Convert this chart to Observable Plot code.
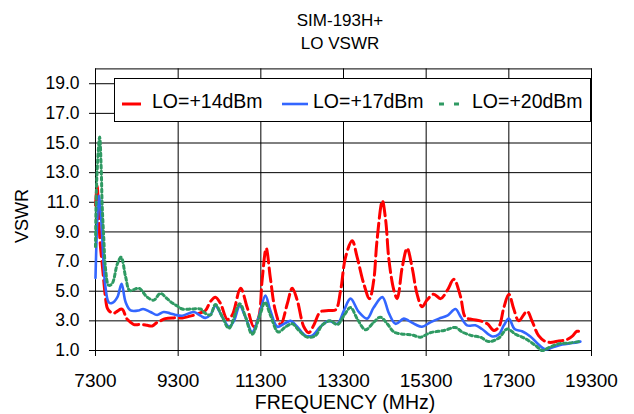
<!DOCTYPE html>
<html>
<head>
<meta charset="utf-8">
<script src="https://cdn.jsdelivr.net/npm/d3@7"></script>
<script src="https://cdn.jsdelivr.net/npm/@observablehq/plot@0.6"></script>
<style>
  html, body { margin: 0; padding: 0; background: #fff; }
  #wrap { position: relative; width: 634px; height: 414px; font-family: "Liberation Sans", Arial, sans-serif; color: #000; }
  #wrap svg { position: absolute; left: 0; top: 0; }
  .ttl { position: absolute; left: 240px; width: 200px; text-align: center; font-size: 17px; line-height: 23px; white-space: nowrap; z-index: 2; }
</style>
</head>
<body>
<div id="wrap">
  <div class="ttl" style="top:8.6px">SIM-193H+</div>
  <div class="ttl" style="top:31.6px">LO VSWR</div>
</div>
<script>
// ---- data ----
const xTicks = [7300, 9300, 11300, 13300, 15300, 17300, 19300];
const yTicks = [1, 3, 5, 7, 9, 11, 13, 15, 17, 19];
const seriesNames = ["LO=+14dBm", "LO=+17dBm", "LO=+20dBm"];

const lo14Freq = [7300,7340,7380,7420,7460,7500,7540,7580,7620,7660,7740,7800,7920,7960,8030,8070,8150,8230,8350,8430,8550,8670,8790,8870,8990,9190,9400,9640,9800,9960,10080,10200,10320,10490,10610,10810,10970,11130,11250,11330,11430,11530,11650,11780,11940,12060,12180,12340,12460,12580,12740,12940,13110,13230,13350,13510,13630,13790,13930,14030,14110,14240,14320,14400,14520,14600,14720,14840,14960,15080,15200,15320,15480,15650,15810,15970,16130,16250,16410,16610,16780,16940,17060,17180,17300,17420,17540,17740,17860,18020,18190,18350,18510,18670,18830,18950,19050];
const lo14Vswr = [10.8,12.1,9.8,8.0,6.9,5.7,4.6,3.9,3.7,3.6,3.5,3.6,3.8,3.75,3.3,3.1,2.9,2.75,2.75,2.75,2.7,2.65,2.9,3.0,3.15,3.2,3.2,3.35,3.5,3.7,4.3,4.6,4.2,3.1,3.4,5.2,3.9,2.6,3.25,5.7,7.9,5.9,3.7,2.75,4.15,5.2,4.4,2.6,2.2,2.7,3.6,3.7,3.75,5.05,7.3,8.4,7.3,5.5,4.5,5.7,8.4,11.1,9.8,7.1,5.05,4.5,6.6,7.9,6.6,4.8,3.95,4.4,4.8,4.5,5.05,5.8,4.65,3.25,3.1,3.0,2.8,2.35,2.6,3.9,4.8,3.8,3.0,3.65,3.0,2.0,1.6,1.55,1.65,1.7,1.95,2.3,2.25];

const lo17Freq = [7300,7380,7440,7490,7540,7620,7700,7830,7930,8030,8150,8350,8450,8630,8790,8950,9110,9240,9400,9680,9840,9960,10080,10200,10370,10530,10650,10790,10930,11090,11250,11410,11530,11700,11860,12020,12180,12380,12540,12740,12940,13150,13310,13470,13670,13870,14030,14240,14400,14560,14760,14880,15040,15200,15400,15610,15810,16010,16130,16290,16490,16650,16900,17060,17180,17300,17440,17620,17820,18020,18190,18350,18590,18830,19030];
const lo17Vswr = [5.9,11.45,9.8,7.1,5.3,4.25,4.2,4.6,5.5,4.25,3.7,3.7,3.8,3.6,3.4,3.6,3.5,3.4,3.35,3.6,3.35,3.2,3.4,4.0,3.25,2.6,3.0,4.0,3.25,2.25,3.25,4.7,3.7,2.6,2.8,3.0,2.6,2.0,2.0,2.6,3.0,2.8,3.7,4.5,3.6,3.15,3.9,4.6,3.5,2.8,3.15,3.0,2.75,2.6,2.9,3.15,3.35,3.8,3.3,2.7,2.7,2.45,1.95,2.1,2.7,3.15,2.45,2.3,1.95,1.4,1.07,1.2,1.4,1.5,1.6];

const lo20Freq = [7300,7330,7400,7440,7460,7500,7540,7620,7700,7830,7920,8030,8130,8350,8550,8710,8870,9030,9160,9280,9400,9640,9840,9960,10080,10200,10370,10530,10790,10930,11090,11290,11400,11530,11720,11900,12060,12220,12420,12620,12780,12980,13150,13310,13470,13630,13830,14030,14190,14360,14520,14760,14960,15160,15400,15730,16010,16170,16410,16610,16820,17060,17260,17460,17700,17940,18110,18270,18510,18750,18990];
const lo20Vswr = [8.0,12.5,15.4,13.1,10.9,8.6,6.6,5.4,5.5,6.85,7.3,5.95,5.05,5.2,4.6,4.4,4.85,4.5,4.2,4.0,3.8,3.8,3.8,3.5,3.4,4.1,3.25,2.5,4.15,3.25,2.1,3.5,4.26,3.4,2.25,2.6,2.8,2.35,1.9,2.0,2.7,3.0,2.75,3.35,3.9,3.15,2.4,2.9,3.25,2.8,2.25,2.1,2.05,1.9,2.2,2.35,2.55,2.25,2.0,1.9,1.6,1.85,2.45,2.1,1.8,1.35,1.0,1.2,1.45,1.5,1.6];

// ---- build tables ----
const toRows = (fs, vs) => fs.map((f, i) => ({f, v: vs[i]}));
const d14 = toRows(lo14Freq, lo14Vswr);
const d17 = toRows(lo17Freq, lo17Vswr);
const d20 = toRows(lo20Freq, lo20Vswr);

const colors = ["#ff0000", "#3366ff", "#2f9a63"];
const FONT = "'Liberation Sans', Arial, sans-serif";

const chart = Plot.plot({
  width: 634,
  height: 414,
  marginLeft: 95,
  marginRight: 43,
  marginTop: 68.4,
  marginBottom: 64,
  style: {fontFamily: FONT, fontSize: "17px", color: "#000", background: "#fff"},
  x: {domain: [7300, 19300]},
  y: {domain: [1, 20]},
  marks: [
    Plot.gridX(xTicks, {stroke: "#000", strokeOpacity: 1, strokeWidth: 1}),
    Plot.gridY(yTicks, {stroke: "#000", strokeOpacity: 1, strokeWidth: 1}),
    Plot.frame({stroke: "#000", strokeWidth: 1}),
    Plot.axisX(xTicks, {anchor: "bottom", tickSize: 6, tickPadding: 17, fontSize: 19, tickFormat: d => String(d), label: null}),
    Plot.axisY(yTicks, {anchor: "left", tickSize: 6, tickPadding: 10, fontSize: 17.5, tickFormat: d => d.toFixed(1), label: null}),
    Plot.line(d14, {x: "f", y: "v", stroke: colors[0], strokeWidth: 3, strokeDasharray: "14,5", curve: "catmull-rom"}),
    Plot.line(d17, {x: "f", y: "v", stroke: colors[1], strokeWidth: 2.6, curve: "catmull-rom"}),
    Plot.line(d20, {x: "f", y: "v", stroke: colors[2], strokeWidth: 3, strokeDasharray: "3,3", curve: "catmull-rom"})
  ]
});

document.getElementById("wrap").insertBefore(chart, document.getElementById("wrap").firstChild);

const svg = d3.select(chart);

// axis titles
svg.append("text")
  .attr("x", 345).attr("y", 409)
  .attr("text-anchor", "middle")
  .attr("font-family", FONT).attr("font-size", 19.5).attr("fill", "#000")
  .text("FREQUENCY (MHz)");
svg.append("text")
  .attr("transform", "translate(22,216) rotate(-90)")
  .attr("text-anchor", "middle").attr("dy", "0.35em")
  .attr("font-family", FONT).attr("font-size", 18).attr("fill", "#000")
  .text("VSWR");

// legend box
const lg = svg.append("g");
lg.append("rect")
  .attr("x", 114.5).attr("y", 78.5).attr("width", 476).attr("height", 43)
  .attr("fill", "#fff").attr("stroke", "#000").attr("stroke-width", 1);
const samples = [
  {x1: 122, x2: 141, dash: null, w: 3, tx: 152},
  {x1: 282, x2: 308, dash: null, w: 2.6, tx: 313},
  {x1: 439, x2: 460, dash: "5,10", w: 3, tx: 472}
];
samples.forEach((s, i) => {
  const l = lg.append("line")
    .attr("x1", s.x1).attr("x2", s.x2).attr("y1", 104).attr("y2", 104)
    .attr("stroke", colors[i]).attr("stroke-width", s.w);
  if (s.dash) l.attr("stroke-dasharray", s.dash);
  lg.append("text")
    .attr("x", s.tx).attr("y", 108.3)
    .attr("text-anchor", "start")
    .attr("font-family", FONT).attr("font-size", 19.5).attr("fill", "#000")
    .text(seriesNames[i]);
});
</script>
</body>
</html>
